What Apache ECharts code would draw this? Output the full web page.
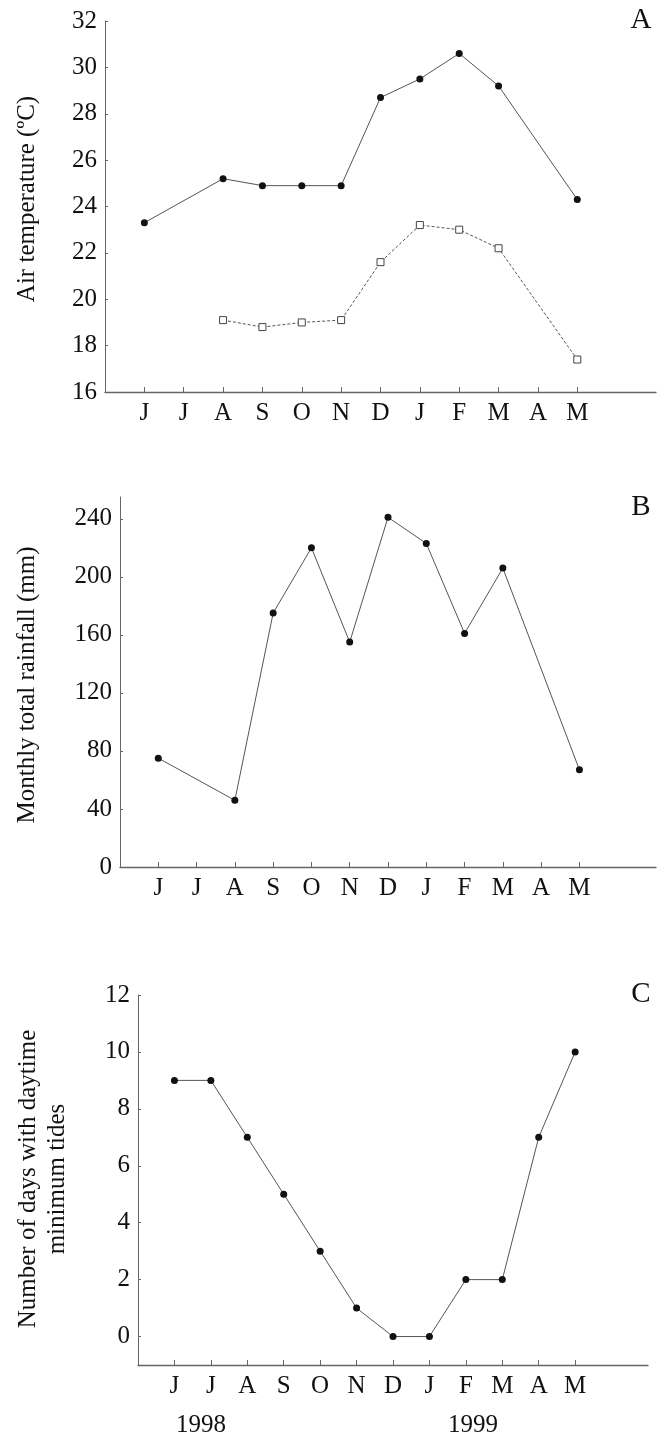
<!DOCTYPE html>
<html><head><meta charset="utf-8">
<script src="https://cdn.jsdelivr.net/npm/echarts@6/dist/echarts.min.js"></script>
<style>html,body{margin:0;padding:0;background:#fff}#c{width:665px;height:1436px}</style>
</head><body><div id="c"></div>
<script>
const months = ['J','J','A','S','O','N','D','J','F','M','A','M'];
const tempMax = [23.3, null, 25.2, 24.9, 24.9, 24.9, 28.7, 29.5, 30.6, 29.2, null, 24.3];
const tempMin = [null, null, 19.1, 18.8, 19.0, 19.1, 21.6, 23.2, 23.0, 22.2, null, 17.4];
const rainfall = [75, null, 46, 175, 220, 155, 241, 223, 161, 206, null, 67];
const tideDays = [9, 9, 7, 5, 3, 1, 0, 0, 2, 2, 7, 10];
const tempTicks = [16, 18, 20, 22, 24, 26, 28, 30, 32];
const rainTicks = [0, 40, 80, 120, 160, 200, 240];
const tideTicks = [0, 2, 4, 6, 8, 10, 12];
const years = ['1998', '1999'];
const panelLetters = ['A', 'B', 'C'];
const titles = ['Air temperature (ºC)', 'Monthly total rainfall (mm)', 'Number of days with daytime', 'minimum tides'];

const FONT = 'Liberation Serif';
const INK = '#111';
const AX = '#666';
const LINE = '#555';
const monthPos = months.map((m, i) => i + 1);

function pts(vals) {
  const out = [];
  vals.forEach((v, i) => { if (v !== null) out.push([i + 1, v]); });
  return out;
}
function xAx(gi) {
  return {
    type: 'value', gridIndex: gi, min: 0, max: 14,
    axisLine: { onZero: false, lineStyle: { color: AX, width: 1.3 } },
    axisTick: { inside: true, length: 5, customValues: monthPos, lineStyle: { color: AX } },
    axisLabel: { customValues: monthPos, formatter: v => months[v - 1] || '', color: INK, fontFamily: FONT, fontSize: 25, margin: 9 },
    splitLine: { show: false }
  };
}
function yAx(gi, min, max, ticks) {
  return {
    type: 'value', gridIndex: gi, min: min, max: max,
    axisLine: { show: true, onZero: false, lineStyle: { color: AX, width: 1 } },
    axisTick: { show: true, inside: true, length: 3, customValues: ticks, lineStyle: { color: AX } },
    axisLabel: { customValues: ticks, color: INK, fontFamily: FONT, fontSize: 25, margin: 8 },
    splitLine: { show: false }
  };
}
function dotLine(gi, vals) {
  return {
    type: 'line', xAxisIndex: gi, yAxisIndex: gi, data: pts(vals),
    symbol: 'circle', symbolSize: 7, connectNulls: true,
    lineStyle: { color: LINE, width: 1 },
    itemStyle: { color: INK }
  };
}
function vText(x, y, t) {
  return { type: 'text', x: x, y: y, rotation: Math.PI / 2,
    style: { text: t, fontFamily: FONT, fontSize: 25, fill: INK, align: 'center', verticalAlign: 'middle' } };
}
function hText(x, y, t, size) {
  return { type: 'text', x: x, y: y,
    style: { text: t, fontFamily: FONT, fontSize: size, fill: INK, align: 'center', verticalAlign: 'middle' } };
}

const option = {
  animation: false,
  backgroundColor: '#fff',
  grid: [
    { left: 105, top: 21, width: 551, height: 371 },
    { left: 120, top: 497, width: 536, height: 370 },
    { left: 138, top: 995, width: 510, height: 370 }
  ],
  xAxis: [xAx(0), xAx(1), xAx(2)],
  yAxis: [yAx(0, 16, 32, tempTicks), yAx(1, 0, 255, rainTicks), yAx(2, -1, 12, tideTicks)],
  series: [
    dotLine(0, tempMax),
    {
      type: 'line', xAxisIndex: 0, yAxisIndex: 0, data: pts(tempMin),
      symbol: 'rect', symbolSize: 7, connectNulls: true,
      lineStyle: { color: LINE, width: 1, type: [3, 2] },
      itemStyle: { color: '#fff', borderColor: '#444', borderWidth: 1 }
    },
    dotLine(1, rainfall),
    dotLine(2, tideDays)
  ],
  graphic: [
    vText(27, 199, titles[0]),
    vText(27, 685, titles[1]),
    vText(28, 1179, titles[2]),
    vText(57, 1179, titles[3]),
    hText(641, 20, panelLetters[0], 29),
    hText(641, 507, panelLetters[1], 29),
    hText(641, 994, panelLetters[2], 29),
    hText(201, 1425, years[0], 25),
    hText(473, 1425, years[1], 25)
  ]
};
echarts.init(document.getElementById('c')).setOption(option);
</script></body></html>
